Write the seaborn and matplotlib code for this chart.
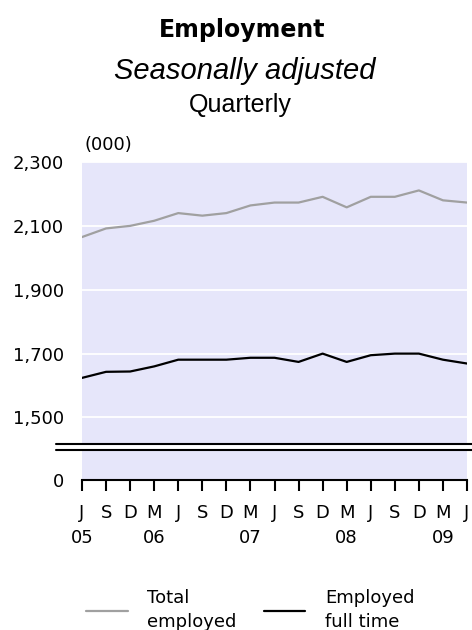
import numpy as np
import pandas as pd
import matplotlib
matplotlib.use("Agg")
import matplotlib.pyplot as plt
from matplotlib.lines import Line2D
import seaborn as sns

# quarterly data, Jun 2005 - Jun 2009 (000)
quarters = ["J", "S", "D", "M", "J", "S", "D", "M", "J", "S", "D", "M", "J", "S", "D", "M", "J"]
years = ["05", "", "", "06", "", "", "", "07", "", "", "", "08", "", "", "", "09", ""]
total_employed = [2065, 2092, 2100, 2116, 2140, 2132, 2140, 2164, 2173, 2173,
                  2191, 2158, 2191, 2191, 2211, 2180, 2173]
full_time = [1624, 1643, 1644, 1660, 1681, 1681, 1681, 1687, 1687, 1674,
             1700, 1674, 1695, 1700, 1700, 1681, 1669]
series_names = ["Total\nemployed", "Employed\nfull time"]
y_ticks = [1500, 1700, 1900, 2100, 2300]

n = len(quarters)
df = pd.DataFrame({
    "quarter": list(range(n)) * 2,
    "value": total_employed + full_time,
    "series": [series_names[0]] * n + [series_names[1]] * n,
})

sns.set_theme(style="white")
plt.rcParams["font.family"] = "DejaVu Sans"
plt.rcParams["text.color"] = "black"
plt.rcParams["xtick.color"] = "black"
plt.rcParams["ytick.color"] = "black"

W, H = 472, 630
bg = "#e6e6fa"
fig = plt.figure(figsize=(W / 100, H / 100), dpi=100)
ax = fig.add_axes([82 / W, 1 - 444 / H, 385 / W, 282 / H])
ax_low = fig.add_axes([82 / W, 1 - 480 / H, 385 / W, 30 / H])

# upper part of the broken axis
sns.lineplot(data=df, x="quarter", y="value", hue="series",
             palette=["#a0a0a0", "#000000"], linewidth=1.6, ax=ax)
ax.set_facecolor(bg)
ax.set_xlim(0, n - 1)
ax.set_ylim(1417, 2300)
ax.set_yticks(y_ticks)
ax.set_yticklabels([f"{v:,}" for v in y_ticks])
ax.grid(axis="y", color="white", linewidth=1.3)
ax.set_xticks([])
ax.tick_params(axis="y", length=0, pad=13, labelsize=13)
ax.set_xlabel("")
ax.set_ylabel("")
for s in ax.spines.values():
    s.set_visible(False)

# lower part with the zero
ax_low.set_facecolor(bg)
ax_low.set_xlim(0, n - 1)
ax_low.set_ylim(0, 100)
ax_low.set_yticks([0])
ax_low.set_yticklabels(["0"])
ax_low.set_xticks(range(n))
ax_low.set_xticklabels([f"{q}\n{y}" for q, y in zip(quarters, years)], linespacing=1.5)
ax_low.tick_params(axis="x", bottom=True, direction="out", length=8, width=1.5,
                   color="black", pad=9, labelsize=13)
ax_low.tick_params(axis="y", length=0, pad=13, labelsize=13)
for side in ["top", "left", "right"]:
    ax_low.spines[side].set_visible(False)
ax_low.spines["bottom"].set_color("black")
ax_low.spines["bottom"].set_linewidth(1.5)

# axis break marks
for ypx in (444, 449.5):
    fig.add_artist(Line2D([56 / W, 1.0], [1 - ypx / H] * 2, color="black",
                          linewidth=1.5, transform=fig.transFigure))

# titles
fig.text(242 / W, 1 - 37 / H, "Employment", ha="center", va="baseline",
         fontsize=17, fontweight="bold")
fig.text(245 / W, 1 - 79 / H, "Seasonally adjusted", ha="center", va="baseline",
         fontsize=21, style="italic", family="Liberation Sans")
fig.text(240 / W, 1 - 112 / H, "Quarterly", ha="center", va="baseline",
         fontsize=18, family="Liberation Sans")
fig.text(85 / W, 1 - 145 / H, "(000)", ha="left", va="center", fontsize=13)

sns.move_legend(ax, "upper left", bbox_to_anchor=(86 / W, 1 - 589 / H),
                bbox_transform=fig.transFigure, ncol=2, title=None, frameon=False,
                fontsize=13, handlelength=2.3, handletextpad=1.1,
                columnspacing=1.5, borderpad=0, borderaxespad=0)
for t in ax.get_legend().get_texts():
    t.set_linespacing(1.45)

fig.savefig("out.png", dpi=100)
